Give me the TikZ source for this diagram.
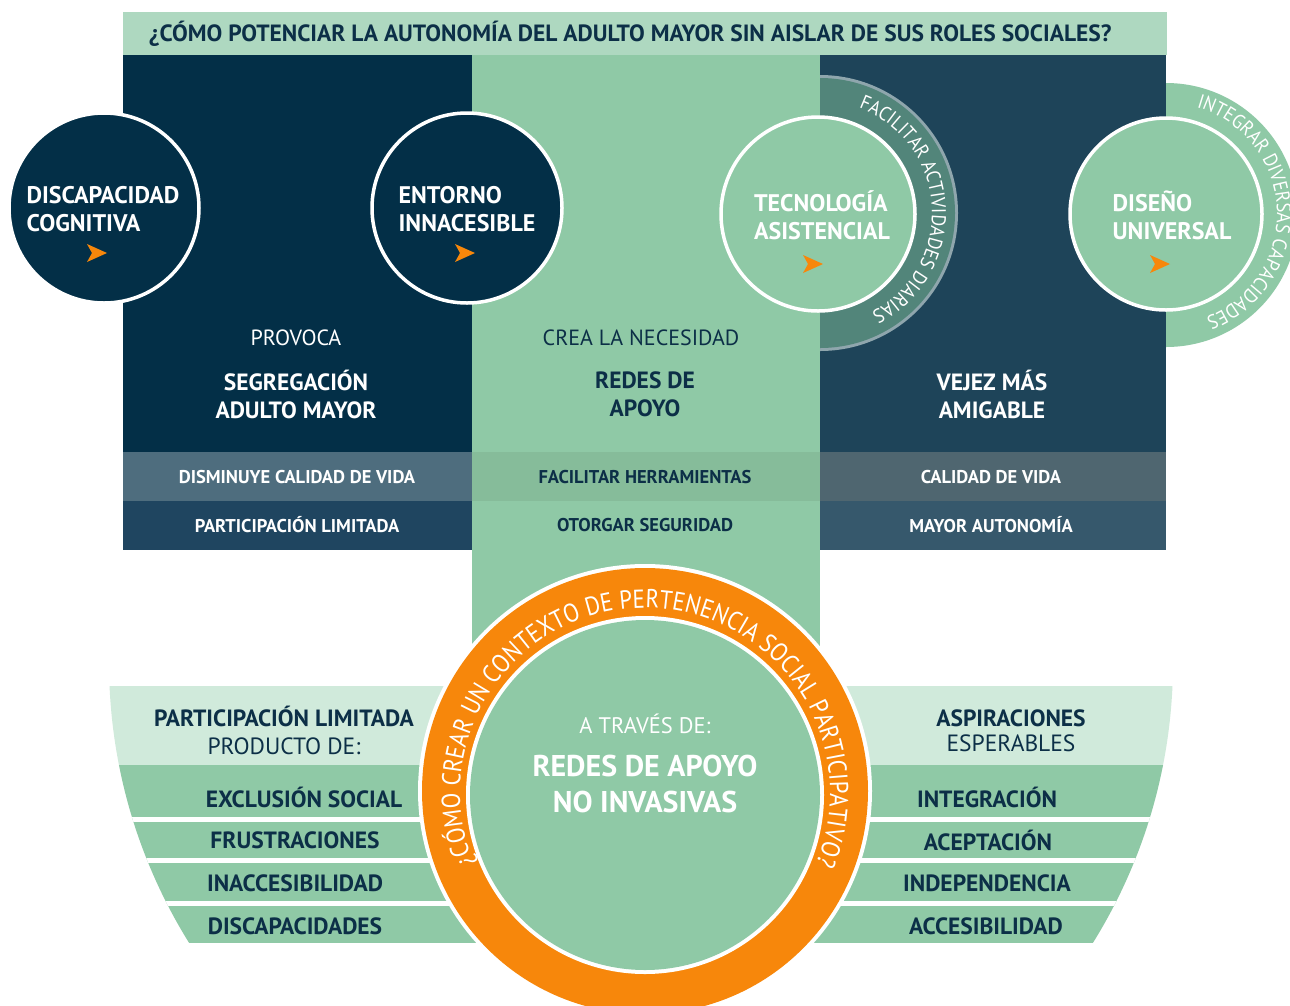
\documentclass[tikz,border=0pt]{standalone}
\usepackage{fontspec}
\setmainfont{PT Sans}
\newfontfamily\arcfont[FakeStretch=0.88]{PT Sans}
\newfontfamily\capfont[FakeStretch=0.9]{PT Sans}
\usetikzlibrary{decorations.text,calc}

\definecolor{navy}{HTML}{032F47}
\definecolor{navyB}{HTML}{1E4459}
\definecolor{ink}{HTML}{0C2F47}
\definecolor{mint}{HTML}{8FC9A6}
\definecolor{mintD}{HTML}{86BC9A}
\definecolor{mintT}{HTML}{AED8C0}
\definecolor{mintL}{HTML}{D0EADB}
\definecolor{slateA}{HTML}{4E6D7E}
\definecolor{slateB}{HTML}{1F4560}
\definecolor{slateC}{HTML}{4F6670}
\definecolor{slateD}{HTML}{36586C}
\definecolor{tealring}{HTML}{52857A}
\definecolor{ringedge}{HTML}{8FA6AD}
\definecolor{orng}{HTML}{F7870B}

\newcommand{\fs}[1]{\fontsize{#1}{1.33\dimexpr#1pt\relax}\selectfont}

\tikzset{
  every node/.style={inner sep=0pt, outer sep=0pt},
  bubble/.style={circle, draw=white, line width=3.5pt, minimum size=#1},
  bubbletext/.style={font=\fontsize{24}{28}\selectfont\bfseries, text=white, align=left},
  headtext/.style={font=\fs{22}, align=center},
  boldtext/.style={font=\fontsize{23.5}{28}\selectfont\bfseries, align=center},
  rowtext/.style={font=\fs{18.5}\bfseries},
  bandtext/.style={font=\fs{23.5}\bfseries, text=ink},
  pics/pointer/.style={code={\fill[orng] (-10,9) -- (10,0) -- (-10,-9) -- (-5,0) -- cycle;}}
}

\begin{document}
\begin{tikzpicture}[x=1pt,y=1pt]
\useasboundingbox[fill=white] (0,0) rectangle (1290,-1005);

% title bar
\fill[mintT] (123,-12) rectangle (1167,-55);
\node[anchor=west, font=\fs{23.5}\bfseries, text=ink] (title) at (149,-34)
  {¿CÓMO POTENCIAR LA AUTONOMÍA DEL ADULTO MAYOR SIN AISLAR DE SUS ROLES SOCIALES?};

% three columns
\fill[navy]  (123,-55) rectangle (472,-452);
\fill[mint]  (472,-55) rectangle (820,-700);
\fill[navyB] (820,-55) rectangle (1166,-452);

% lower rows of the columns
\fill[slateA] (123,-452) rectangle (472,-501);
\fill[slateB] (123,-501) rectangle (472,-550);
\fill[mintD]  (472,-452) rectangle (820,-501);
\fill[slateC] (820,-452) rectangle (1166,-501);
\fill[slateD] (820,-501) rectangle (1166,-550);

% half rings behind the right-hand bubbles
\begin{scope}
  \clip (820,-60) rectangle (1000,-380);
  \fill[ringedge] (820,-213) circle (138pt);
  \fill[tealring] (820,-213) circle (135pt);
\end{scope}
\begin{scope}
  \clip (1166,-60) rectangle (1300,-380);
  \fill[mint] (1166,-215) circle (132pt);
\end{scope}

% bubbles
\node[bubble=190pt, fill=navy] (b1) at (104,-208) {};
\node[bubble=190pt, fill=navy] (b2) at (467,-208) {};
\node[bubble=194pt, fill=mint] (b3) at (818,-214) {};
\node[bubble=192pt, fill=mint] (b4) at (1166,-214) {};

\node[bubbletext] (t1) at (103,-209) {DISCAPACIDAD\\COGNITIVA};
\node[bubbletext] (t2) at (467,-209) {ENTORNO\\INNACESIBLE};
\node[bubbletext] (t3) at (822,-215) {TECNOLOGÍA\\ASISTENCIAL};
\node[bubbletext] (t4) at (1172,-215) {DISEÑO\\UNIVERSAL};

\pic at (97,-253) {pointer};
\pic at (465,-253) {pointer};
\pic at (813,-264) {pointer};
\pic at (1160,-264) {pointer};

% curved captions
\path[decorate, decoration={text along path, text align=center,
  text={|\capfont\fontsize{20}{22}\selectfont\color{white}|FACILITAR ACTIVIDADES DIARIAS}}]
  ($(820,-213)+(100:112pt)$) arc[start angle=100, end angle=-93, radius=112pt];
\path[decorate, decoration={text along path, text align=center,
  text={|\capfont\fontsize{20}{22}\selectfont\color{white}|INTEGRAR DIVERSAS CAPACIDADES}}]
  ($(1166,-214)+(100:111pt)$) arc[start angle=100, end angle=-95, radius=111pt];

% column texts
\node[headtext, text=white] (h1) at (296,-338) {PROVOCA};
\node[boldtext, text=white] (s1) at (296,-394) {SEGREGACIÓN\\ADULTO MAYOR};
\node[headtext, text=ink] (h2) at (641,-338) {CREA LA NECESIDAD};
\node[boldtext, text=ink] (s2) at (645,-394) {REDES DE\\APOYO};
\node[boldtext, text=white] (s3) at (992,-394) {VEJEZ MÁS\\AMIGABLE};

\node[rowtext, text=white] (r11) at (297,-477) {DISMINUYE CALIDAD DE VIDA};
\node[rowtext, text=white] (r12) at (297,-525) {PARTICIPACIÓN LIMITADA};
\node[rowtext, text=ink]   (r21) at (645,-477) {FACILITAR HERRAMIENTAS};
\node[rowtext, text=ink]   (r22) at (645,-525) {OTORGAR SEGURIDAD};
\node[rowtext, text=white] (r31) at (991,-477) {CALIDAD DE VIDA};
\node[rowtext, text=white] (r32) at (991,-525) {MAYOR AUTONOMÍA};

% bowl-shaped bands
\begin{scope}
  \clip (641,-662) circle (532pt);
  \fill[mintL] (100,-686) rectangle (1190,-765);
  \fill[mint]  (100,-765) rectangle (1190,-943);
  \fill[white] (100,-817) rectangle (1190,-822);
  \fill[white] (100,-858) rectangle (1190,-863);
  \fill[white] (100,-901) rectangle (1190,-906);
\end{scope}

\node[font=\fontsize{23.5}{28}\selectfont, text=ink, align=center] (lh) at (284,-730)
  {\bfseries PARTICIPACIÓN LIMITADA\\PRODUCTO DE:};
\node[font=\fontsize{23.5}{25}\selectfont, text=ink, align=center] (rh) at (1011,-731)
  {\bfseries ASPIRACIONES\\ESPERABLES};

\node[bandtext] (l1) at (304,-797) {EXCLUSIÓN SOCIAL};
\node[bandtext] (l2) at (295,-840) {FRUSTRACIONES};
\node[bandtext] (l3) at (295,-883) {INACCESIBILIDAD};
\node[bandtext] (l4) at (295,-926) {DISCAPACIDADES};
\node[bandtext] (q1) at (987,-797) {INTEGRACIÓN};
\node[bandtext] (q2) at (988,-840) {ACEPTACIÓN};
\node[bandtext] (q3) at (987,-883) {INDEPENDENCIA};
\node[bandtext] (q4) at (986,-926) {ACCESIBILIDAD};

% central ring
\fill[white] (645,-791) circle (227pt);
\fill[orng]  (645,-791) circle (223pt);
\fill[white] (645,-795) circle (179pt);
\fill[mint]  (645,-795) circle (175pt);

\path[decorate, decoration={text along path, text align=center,
  text={|\arcfont\fontsize{26}{28}\selectfont\color{white}|¿CÓMO CREAR UN CONTEXTO DE PERTENENCIA SOCIAL PARTICIPATIVO?}}]
  ($(645,-793)+(240:185pt)$) arc[start angle=240, end angle=-60, radius=185pt];

\node[font=\fs{22.5}, text=white] (via) at (645,-724) {A TRAVÉS DE:};
\node[font=\fontsize{30}{36}\selectfont\bfseries, text=white, align=center] (core) at (645,-784)
  {REDES DE APOYO\\NO INVASIVAS};
\end{tikzpicture}
\end{document}
